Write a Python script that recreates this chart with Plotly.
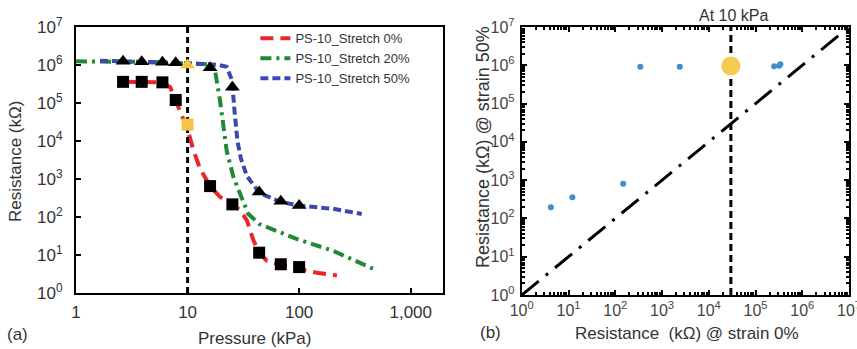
import plotly.graph_objects as go

# ---------------- Panel (a) data ----------------
# marker points (square = stretch 0%, triangle = stretch 50%)
sq_x = [2.64, 3.88, 5.95, 7.83, 10, 15.9, 25.2, 43.8, 68.5, 100]
sq_y = [3.6e5, 3.6e5, 3.5e5, 1.2e5, 2.7e4, 650, 215, 11.5, 5.7, 4.8]
sq_col = ["black"] * 4 + ["#f6c445"] + ["black"] * 5

tri_x = [2.64, 3.88, 5.95, 7.83, 10, 15.9, 25.2, 43.8, 68.5, 100]
tri_y = [1.25e6, 1.22e6, 1.18e6, 1.15e6, 1.0e6, 8.5e5, 2.6e5, 455, 260, 200]
tri_col = ["black"] * 4 + ["#f6c445"] + ["black"] * 5

# curves
red_x = [2.64, 3.9, 6.0, 7.0, 7.83, 9.0, 10, 11.3, 12.9, 15.9, 19.6, 25.2, 29.6, 34, 39, 43.8, 51, 68.5, 100, 144, 218]
red_y = [3.6e5, 3.6e5, 3.5e5, 2.6e5, 1.2e5, 4.8e4, 2.0e4, 5.7e3, 1.9e3, 650, 335, 215, 150, 82, 24, 11.5, 7.2, 5.5, 4.4, 3.4, 2.9]

green_x = [1, 2, 5, 10, 15, 17.5, 19.5, 22.4, 25.8, 29.6, 35, 44, 60, 100, 200, 290, 480]
green_y = [1.25e6, 1.25e6, 1.2e6, 1.1e6, 1.05e6, 8e5, 1.2e5, 5.6e3, 1.1e3, 400, 120, 65, 45, 25, 13, 8, 4.1]

blue_x = [1.64, 3, 6, 10, 15, 19, 22.4, 25, 26.5, 28, 30, 34, 44, 68, 100, 200, 364]
blue_y = [1.3e6, 1.25e6, 1.2e6, 1.1e6, 1.05e6, 1.0e6, 9e5, 4e5, 5e4, 1e4, 3.5e3, 1.2e3, 430, 250, 200, 165, 120]

series_names = ["PS-10_Stretch 0%", "PS-10_Stretch 20%", "PS-10_Stretch 50%"]

a_xticks = [1, 10, 100, 1000]
a_xticktext = ["1", "10", "100", "1,000"]

# ---------------- Panel (b) data ----------------
b_x = [4.2, 12.1, 148, 344, 2400, 2.5e5, 3.2e5, 3.4e5]
b_y = [195, 355, 800, 9.1e5, 9.1e5, 9.4e5, 9.8e5, 1.06e6]
hl_x = [2.97e4]
hl_y = [9.6e5]
diag = [1, 1e7]

pow_vals = [10 ** k for k in range(8)]
pow_text = ["10<sup>%d</sup>" % k for k in range(8)]
minor_vals = [m * 10 ** k for k in range(7) for m in range(2, 10)]

FONT = "Liberation Sans, Arial, sans-serif"
RED, GREEN, BLUE = "#e8262d", "#1f8a34", "#3c47b4"

fig = go.Figure()

# panel (a) curves
fig.add_trace(go.Scatter(x=red_x, y=red_y, mode="lines", name=series_names[0],
                         line=dict(color=RED, width=4, dash="13px,7px"), xaxis="x", yaxis="y"))
fig.add_trace(go.Scatter(x=green_x, y=green_y, mode="lines", name=series_names[1],
                         line=dict(color=GREEN, width=4, dash="11px,5px,3px,5px"), xaxis="x", yaxis="y"))
fig.add_trace(go.Scatter(x=blue_x, y=blue_y, mode="lines", name=series_names[2],
                         line=dict(color=BLUE, width=4, dash="8px,4px"), xaxis="x", yaxis="y"))
# vertical reference at 10 kPa
fig.add_trace(go.Scatter(x=[10, 10], y=[1, 1e7], mode="lines", showlegend=False,
                         line=dict(color="black", width=3, dash="6px,4px"), xaxis="x", yaxis="y"))
# markers
fig.add_trace(go.Scatter(x=sq_x, y=sq_y, mode="markers", showlegend=False,
                         marker=dict(symbol="square", size=12, color=sq_col, line=dict(width=0)),
                         xaxis="x", yaxis="y"))
fig.add_trace(go.Scatter(x=tri_x, y=tri_y, mode="markers", showlegend=False,
                         marker=dict(symbol="triangle-up", size=13, color=tri_col, line=dict(width=0)),
                         xaxis="x", yaxis="y"))

# panel (b)
fig.add_trace(go.Scatter(x=diag, y=diag, mode="lines", showlegend=False,
                         line=dict(color="black", width=3, dash="22px,9px,3px,9px"), xaxis="x2", yaxis="y2"))
fig.add_trace(go.Scatter(x=[hl_x[0], hl_x[0]], y=[1, 1e7], mode="lines", showlegend=False,
                         line=dict(color="black", width=3, dash="7px,4px"), xaxis="x2", yaxis="y2"))
fig.add_trace(go.Scatter(x=b_x, y=b_y, mode="markers", showlegend=False,
                         marker=dict(size=6, color="#3d8fd1"), xaxis="x2", yaxis="y2"))
fig.add_trace(go.Scatter(x=hl_x, y=hl_y, mode="markers", showlegend=False,
                         marker=dict(size=19, color="#f7c94e"), xaxis="x2", yaxis="y2"))

axis_common = dict(type="log", showgrid=False, zeroline=False, showline=True,
                   linecolor="black", linewidth=2, automargin=False, ticklabeloverflow="allow")

fig.update_layout(
    width=857, height=349, margin=dict(l=0, r=0, t=0, b=0, autoexpand=False),
    paper_bgcolor="white", plot_bgcolor="white",
    font=dict(family=FONT, size=16, color="#222"),
    showlegend=True,
    legend=dict(x=0.298, y=0.933, xanchor="left", yanchor="top", bgcolor="rgba(0,0,0,0)",
                font=dict(size=13, color="#333"), tracegroupgap=0, itemwidth=30),
    xaxis=dict(axis_common, domain=[0.0887, 0.517], range=[0, 3.29], anchor="y", mirror=True,
               tickvals=a_xticks, ticktext=a_xticktext, ticks="inside", ticklen=5, tickwidth=2,
               tickcolor="black", ticklabelstandoff=3, tickfont=dict(size=17, color="#333")),
    yaxis=dict(axis_common, domain=[0.1605, 0.9226], range=[0, 7], anchor="x", mirror=True,
               tickvals=pow_vals, ticktext=pow_text, ticks="inside", ticklen=5, tickwidth=2,
               tickcolor="black", ticklabelstandoff=8, tickfont=dict(size=17, color="#333")),
    xaxis2=dict(axis_common, domain=[0.6088, 0.9907], range=[0, 7], anchor="y2", mirror="ticks",
                tickvals=pow_vals, ticktext=pow_text, ticks="inside", ticklen=5, tickwidth=2,
                tickcolor="black", ticklabelstandoff=0,
                minor=dict(tickmode="array", tickvals=minor_vals, ticks="inside", ticklen=3,
                           tickwidth=1.5, tickcolor="black"),
                tickfont=dict(size=16, color="#444")),
    yaxis2=dict(axis_common, domain=[0.1547, 0.9226], range=[0, 7], anchor="x2", mirror="ticks",
                tickvals=pow_vals, ticktext=pow_text, ticks="inside", ticklen=5, tickwidth=2,
                tickcolor="black", ticklabelstandoff=2,
                minor=dict(tickmode="array", tickvals=minor_vals, ticks="inside", ticklen=3,
                           tickwidth=1.5, tickcolor="black"),
                tickfont=dict(size=16, color="#444")),
)

ann = [
    dict(text="Pressure (kPa)", x=254, y=338, size=17),
    dict(text="(a)", x=17, y=334, size=17),
    dict(text="Resistance (kΩ)", x=15, y=162, size=17, angle=-90),
    dict(text="At 10 kPa", x=733, y=15, size=16),
    dict(text="(b)", x=490, y=332, size=17),
    dict(text="Resistance  (kΩ) @ strain 0%", x=687, y=333, size=17),
    dict(text="Resistance (kΩ) @ strain 50%", x=483, y=147, size=18, angle=-90),
]
for a in ann:
    fig.add_annotation(text=a["text"], x=a["x"] / 857, y=1 - a["y"] / 349, xref="paper", yref="paper",
                       xanchor="center", yanchor="middle", showarrow=False,
                       textangle=a.get("angle", 0), font=dict(size=a["size"], color="#333", family=FONT))

fig.write_html("out.html")
